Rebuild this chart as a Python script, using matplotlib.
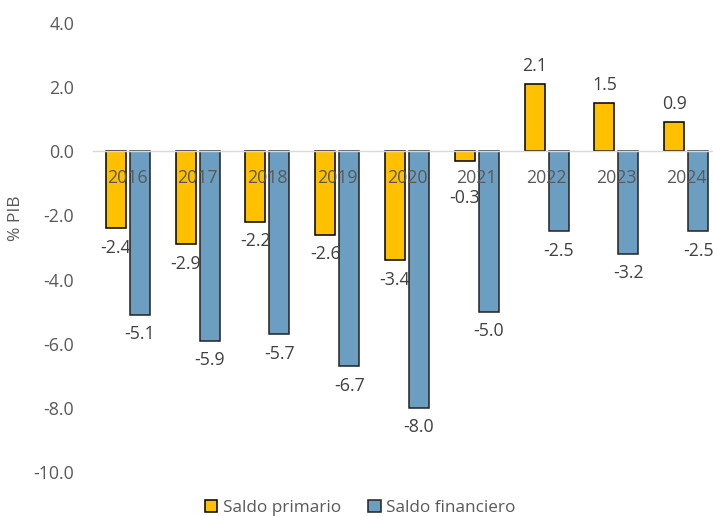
import matplotlib
matplotlib.use("Agg")
import matplotlib.pyplot as plt
import numpy as np
from matplotlib.patches import Patch

years = ["2016", "2017", "2018", "2019", "2020", "2021", "2022", "2023", "2024"]
saldo_primario = [-2.4, -2.9, -2.2, -2.6, -3.4, -0.3, 2.1, 1.5, 0.9]
saldo_financiero = [-5.1, -5.9, -5.7, -6.7, -8.0, -5.0, -2.5, -3.2, -2.5]
series_names = ["Saldo primario", "Saldo financiero"]
yticks = [4.0, 2.0, 0.0, -2.0, -4.0, -6.0, -8.0, -10.0]

plt.rcParams["font.family"] = ["Open Sans", "DejaVu Sans"]

W, H = 713, 516
fig = plt.figure(figsize=(W / 100, H / 100), dpi=100)
ax = fig.add_axes([93 / W, 44 / H, 628 / W, 449 / H])

yellow = "#FFC000"
blue = "#6C9EC2"
txt = "#595959"
lbl = "#404040"

x = np.arange(len(years))
bw = 0.287
off = 0.172
ax.bar(x - off, saldo_primario, bw, color=yellow, edgecolor="black", linewidth=1.1, zorder=1)
ax.bar(x + off, saldo_financiero, bw, color=blue, edgecolor="#222222", linewidth=1.1, zorder=1)

ax.set_xlim(-0.5, len(years) - 0.5)
ax.set_ylim(-10, 4)
ax.set_yticks(yticks)
ax.set_yticklabels([f"{v:.1f}" for v in yticks])
ax.tick_params(axis="y", length=0, pad=13.5, labelsize=12.8, labelcolor=txt)

for s in ["top", "right", "left"]:
    ax.spines[s].set_visible(False)
ax.spines["bottom"].set_position(("data", 0))
ax.spines["bottom"].set_color("#D9D9D9")
ax.spines["bottom"].set_linewidth(1.0)
ax.set_xticks(x)
ax.set_xticklabels(years)
ax.tick_params(axis="x", length=0, pad=12.5, labelsize=12.8, labelcolor=txt)

def label_bars(xs, vals):
    for xi, v in zip(xs, vals):
        if v >= 0:
            dy = 13
        elif v > -1:
            dy = -27
        else:
            dy = -14
        ax.annotate(f"{v:.1f}", (xi, v), xytext=(0, dy), textcoords="offset points",
                    ha="center", va="center", fontsize=12.8, color=lbl)

label_bars(x - off, saldo_primario)
label_bars(x + off, saldo_financiero)

fig.text(16 / W, 1 - 218 / H, "% PIB", rotation=90, ha="center", va="center",
         fontsize=12.5, color=txt)

handles = [Patch(facecolor=yellow, edgecolor="black", linewidth=1.1),
           Patch(facecolor=blue, edgecolor="#222222", linewidth=1.1)]
fig.legend(handles, series_names, loc="center", bbox_to_anchor=(360 / W, 1 - 508 / H),
           ncol=2, frameon=False, fontsize=12.3, labelcolor=txt,
           handlelength=0.75, handleheight=0.75, handletextpad=0.3, columnspacing=1.6)

fig.savefig("out.png", dpi=100)
